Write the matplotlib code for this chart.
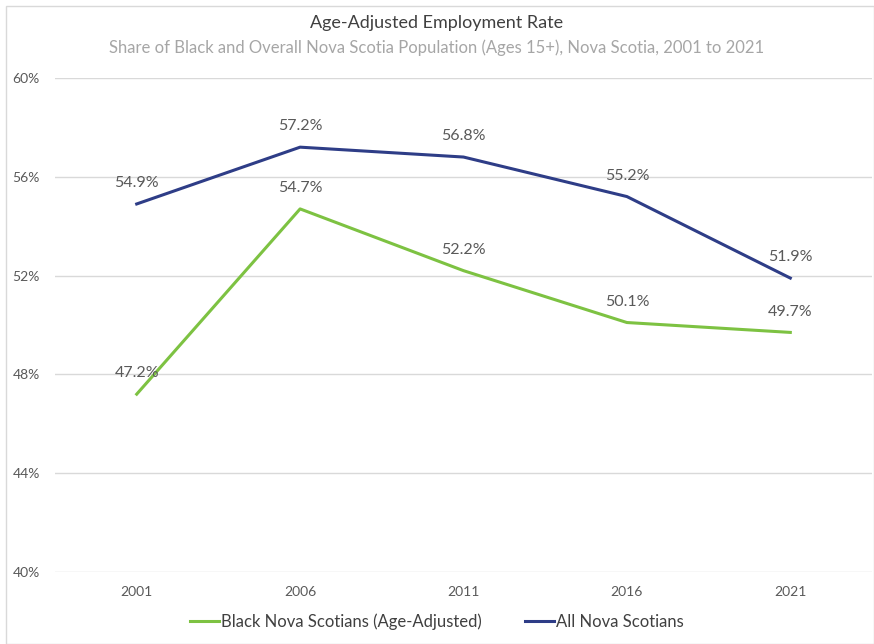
import matplotlib
matplotlib.use("Agg")
import matplotlib.pyplot as plt
from matplotlib.patches import Rectangle

years = ["2001", "2006", "2011", "2016", "2021"]
black_ns = [47.2, 54.7, 52.2, 50.1, 49.7]
all_ns = [54.9, 57.2, 56.8, 55.2, 51.9]
yticks = [40, 44, 48, 52, 56, 60]

plt.rcParams['font.family'] = ['Lato', 'DejaVu Sans']

W, H = 874, 644
fig = plt.figure(figsize=(W / 100, H / 100), dpi=100)
fig.patch.set_facecolor("white")
fig.patches.append(Rectangle((6 / W, 0), 1 - 6 / W, 1 - 6 / H, transform=fig.transFigure,
                             fill=False, edgecolor="#d9d9d9", linewidth=1.0))

left, right = 55 / W, 872 / W
bottom, top = 1 - 572 / H, 1 - 78 / H
ax = fig.add_axes([left, bottom, right - left, top - bottom])

x = list(range(len(years)))
green = "#7dc242"
navy = "#2e3d87"
ax.plot(x, black_ns, color=green, linewidth=2.2, label="Black Nova Scotians (Age-Adjusted)", zorder=3)
ax.plot(x, all_ns, color=navy, linewidth=2.2, label="All Nova Scotians", zorder=3)

for xi, v in zip(x, black_ns):
    ax.annotate(f"{v:.1f}%", (xi, v), xytext=(0, 10), textcoords="offset points",
                ha="center", va="bottom", fontsize=11.5, color="#595959")
for xi, v in zip(x, all_ns):
    ax.annotate(f"{v:.1f}%", (xi, v), xytext=(0, 10), textcoords="offset points",
                ha="center", va="bottom", fontsize=11.5, color="#595959")

ax.set_xlim(-0.5, len(years) - 0.5)
ax.set_ylim(40, 60)
ax.set_yticks(yticks)
ax.set_yticklabels([f"{t}%" for t in yticks])
ax.set_xticks(x)
ax.set_xticklabels(years)
ax.grid(axis="y", color="#d9d9d9", linewidth=1.0)
ax.set_axisbelow(True)
for s in ax.spines.values():
    s.set_visible(False)
ax.tick_params(axis="both", length=0, labelsize=10, colors="#595959")
ax.tick_params(axis="y", pad=11)
ax.tick_params(axis="x", pad=10)

fig.text(0.5, 1 - 23 / H, "Age-Adjusted Employment Rate", ha="center", va="center",
         fontsize=13, color="#404040")
fig.text(0.5, 1 - 48 / H, "Share of Black and Overall Nova Scotia Population (Ages 15+), Nova Scotia, 2001 to 2021",
         ha="center", va="center", fontsize=12, color="#a6a6a6")

leg = fig.legend(loc="center", bbox_to_anchor=(0.5, 1 - 622 / H), ncol=2, frameon=False,
                 fontsize=12, handlelength=1.7, handletextpad=0.15, columnspacing=2.6)
for t in leg.get_texts():
    t.set_color("#404040")

fig.savefig("out.png", dpi=100, facecolor="white")
